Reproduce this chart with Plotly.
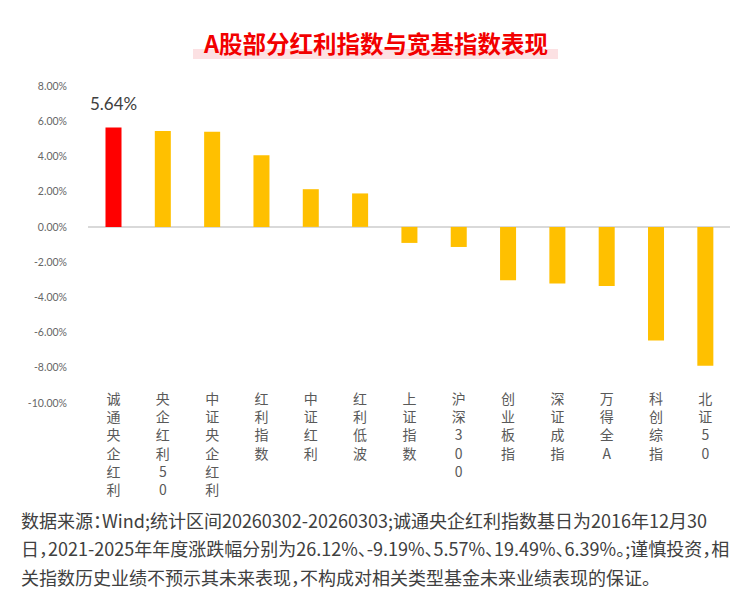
import plotly.graph_objects as go

categories = ["诚通央企红利", "央企红利50", "中证央企红利", "红利指数", "中证红利", "红利低波",
              "上证指数", "沪深300", "创业板指", "深证成指", "万得全A", "科创综指", "北证50"]
values = [5.64, 5.44, 5.40, 4.07, 2.14, 1.90, -0.91, -1.14, -3.03, -3.22, -3.35, -6.45, -7.88]
highlight_index = 0
ytick_vals = [8, 6, 4, 2, 0, -2, -4, -6, -8, -10]
ytick_text = ["8.00%", "6.00%", "4.00%", "2.00%", "0.00%", "-2.00%", "-4.00%", "-6.00%", "-8.00%", "-10.00%"]
title_text = "A股部分红利指数与宽基指数表现"
footer_lines = [
    "数据来源：Wind;统计区间20260302-20260303;诚通央企红利指数基日为2016年12月30",
    "日，2021-2025年年度涨跌幅分别为26.12%、-9.19%、5.57%、19.49%、6.39%。;谨慎投资，相",
    "关指数历史业绩不预示其未来表现，不构成对相关类型基金未来业绩表现的保证。",
]

RED = "#FF0000"
YELLOW = "#FFC000"
colors = [RED if i == highlight_index else YELLOW for i in range(len(values))]
ticktext = ["<br>".join(list(c)) for c in categories]

W, H = 750, 611
L, R, T, B = 88, 20, 86, 208
ph = H - T - B
pw = W - L - R

def py(px):
    return (H - B - px) / ph

def pxx(px):
    return (px - L) / pw

fig = go.Figure()
fig.add_trace(go.Bar(x=categories, y=values, marker=dict(color=colors, line=dict(width=0)),
                     hoverinfo="skip"))

fig.add_annotation(x=categories[highlight_index], y=values[highlight_index],
                   text=f"{values[highlight_index]:.2f}%", showarrow=False,
                   yanchor="bottom", yshift=12,
                   font=dict(family="Lato, Roboto, sans-serif", size=17, color="#404040"))

# title highlight band
fig.add_shape(type="rect", xref="paper", yref="paper", x0=pxx(193), x1=pxx(558),
              y0=py(59), y1=py(49), fillcolor="#FCE1E3", line=dict(width=0), layer="below")
fig.add_annotation(xref="paper", yref="paper", x=pxx(375), y=py(43), text=f"<b>{title_text}</b>",
                   showarrow=False, xanchor="center", yanchor="middle",
                   font=dict(family="Noto Sans CJK SC", size=23.5, color="#F20000"))

for i, (line, ypix) in enumerate(zip(footer_lines, [520, 548, 577])):
    fig.add_annotation(xref="paper", yref="paper", x=pxx(19), y=py(ypix),
                       text=f"<span style=\"font-feature-settings:'halt'\">{line}</span>",
                       showarrow=False, xanchor="left", yanchor="middle",
                       font=dict(family="Noto Sans CJK SC", size=18, color="#404040"))

fig.update_layout(
    width=W, height=H,
    margin=dict(l=L, r=R, t=T, b=B),
    paper_bgcolor="white", plot_bgcolor="white",
    showlegend=False,
    bargap=0.675,
)
fig.update_xaxes(tickvals=categories, ticktext=ticktext, tickangle=0,
                 showgrid=False, showline=False, ticks="", automargin=False,
                 ticklabelstandoff=-14,
                 tickfont=dict(family="Noto Sans CJK SC", size=14, color="#595959"))
fig.update_yaxes(range=[-10, 8], tickvals=ytick_vals, ticktext=ytick_text,
                 showgrid=False, showline=False, ticks="", automargin=False,
                 zeroline=True, zerolinecolor="#D9D9D9", zerolinewidth=1.5,
                 ticklabelstandoff=20,
                 tickfont=dict(family="Lato, Roboto, sans-serif", size=10.5, color="#666666"))

fig.write_html("out.html", config={"displayModeBar": False},
               post_script="document.body.style.margin='0';")
